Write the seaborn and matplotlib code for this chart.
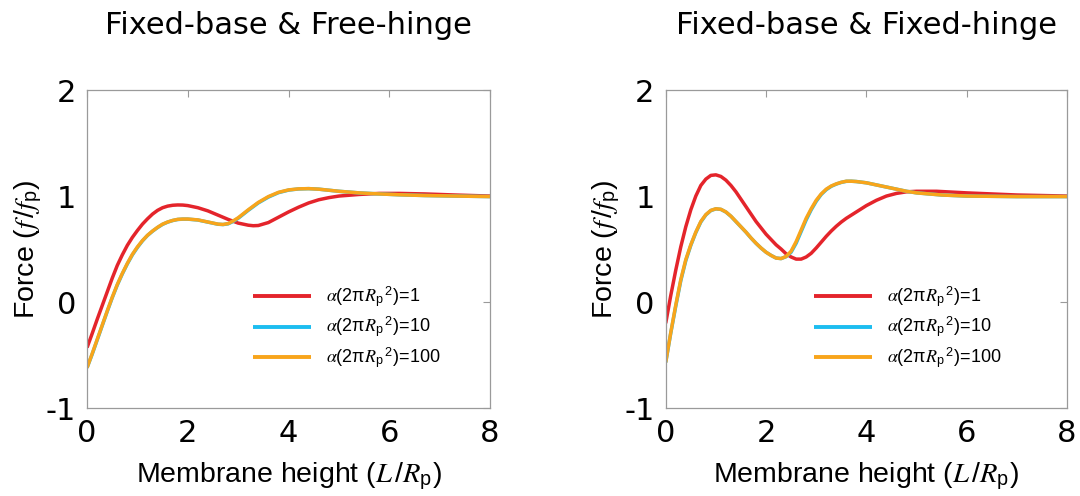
import numpy as np
import pandas as pd
import matplotlib
matplotlib.use("Agg")
import matplotlib.pyplot as plt
import seaborn as sns

# ---- data: force vs membrane height, for three values of alpha(2 pi Rp^2) ----
series_labels = [r"$\alpha$(2π$R_\mathrm{p}{}^{\,2}$)=1",
                 r"$\alpha$(2π$R_\mathrm{p}{}^{\,2}$)=10",
                 r"$\alpha$(2π$R_\mathrm{p}{}^{\,2}$)=100"]
panel_titles = ["Fixed-base & Free-hinge", "Fixed-base & Fixed-hinge"]

# Fixed-base & Free-hinge
free_red_L = [0, 0.1, 0.2, 0.3, 0.4, 0.5, 0.6, 0.7, 0.8, 0.9, 1.0, 1.1, 1.2, 1.3, 1.4, 1.5,
              1.6, 1.7, 1.8, 1.9, 2.0, 2.2, 2.4, 2.6, 2.8, 3.0, 3.2, 3.3, 3.4, 3.6, 3.8,
              4.0, 4.2, 4.4, 4.6, 4.8, 5.0, 5.4, 5.8, 6.2, 6.7, 7.3, 8.0]
free_red_F = [-0.43, -0.30, -0.165, -0.035, 0.095, 0.225, 0.345, 0.445, 0.535, 0.61, 0.675,
              0.735, 0.785, 0.83, 0.865, 0.89, 0.905, 0.913, 0.916, 0.915, 0.91, 0.89, 0.86,
              0.82, 0.78, 0.745, 0.725, 0.72, 0.722, 0.75, 0.80, 0.85, 0.895, 0.935, 0.965,
              0.985, 1.0, 1.015, 1.025, 1.025, 1.02, 1.01, 1.0]
free_alt_L = [0, 0.1, 0.2, 0.3, 0.4, 0.5, 0.6, 0.7, 0.8, 0.9, 1.0, 1.1, 1.2, 1.3, 1.4, 1.5,
              1.6, 1.7, 1.8, 1.9, 2.0, 2.2, 2.4, 2.6, 2.7, 2.8, 2.9, 3.0, 3.2, 3.4, 3.6,
              3.8, 4.0, 4.2, 4.4, 4.6, 4.8, 5.0, 5.4, 5.8, 6.2, 6.7, 7.3, 8.0]
free_cyan_F = [-0.62, -0.495, -0.36, -0.225, -0.09, 0.04, 0.16, 0.265, 0.36, 0.445, 0.515,
               0.577, 0.628, 0.668, 0.703, 0.733, 0.754, 0.769, 0.779, 0.782, 0.782, 0.774,
               0.754, 0.734, 0.731, 0.738, 0.76, 0.79, 0.865, 0.935, 0.99, 1.032, 1.056,
               1.067, 1.07, 1.065, 1.055, 1.045, 1.03, 1.02, 1.012, 1.005, 1.0, 0.995]
free_orange_F = [-0.62, -0.49, -0.355, -0.22, -0.085, 0.045, 0.165, 0.27, 0.365, 0.45, 0.52,
                 0.58, 0.63, 0.67, 0.705, 0.735, 0.755, 0.77, 0.78, 0.783, 0.783, 0.775,
                 0.755, 0.735, 0.732, 0.74, 0.765, 0.795, 0.87, 0.94, 0.995, 1.035, 1.058,
                 1.068, 1.07, 1.065, 1.055, 1.045, 1.03, 1.02, 1.012, 1.005, 1.0, 0.995]

# Fixed-base & Fixed-hinge
fixed_red_L = [0, 0.1, 0.2, 0.3, 0.4, 0.5, 0.6, 0.7, 0.8, 0.9, 1.0, 1.1, 1.2, 1.3, 1.4,
               1.5, 1.6, 1.7, 1.8, 1.9, 2.0, 2.1, 2.2, 2.3, 2.4, 2.5, 2.6, 2.7, 2.8, 2.9,
               3.0, 3.1, 3.2, 3.3, 3.4, 3.5, 3.6, 3.7, 3.8, 3.9, 4.0, 4.2, 4.4, 4.6, 4.8,
               5.0, 5.4, 6.0, 7.0, 8.0]
fixed_red_F = [-0.20, 0.06, 0.30, 0.52, 0.71, 0.87, 1.00, 1.10, 1.16, 1.195, 1.20, 1.185,
               1.15, 1.10, 1.04, 0.97, 0.90, 0.83, 0.76, 0.70, 0.64, 0.59, 0.54, 0.50,
               0.455, 0.425, 0.405, 0.405, 0.425, 0.46, 0.51, 0.565, 0.62, 0.67, 0.715,
               0.755, 0.79, 0.82, 0.85, 0.88, 0.91, 0.96, 1.0, 1.025, 1.04, 1.045, 1.045,
               1.03, 1.01, 1.0]
fixed_alt_L = [0, 0.1, 0.2, 0.3, 0.4, 0.5, 0.6, 0.7, 0.8, 0.9, 1.0, 1.1, 1.2, 1.3, 1.4,
               1.5, 1.6, 1.7, 1.8, 1.9, 2.0, 2.1, 2.2, 2.3, 2.4, 2.5, 2.6, 2.7, 2.8, 2.9,
               3.0, 3.1, 3.2, 3.3, 3.4, 3.5, 3.6, 3.7, 3.8, 4.0, 4.2, 4.4, 4.6, 4.8, 5.0,
               5.5, 6.0, 7.0, 8.0]
fixed_cyan_F = [-0.57, -0.295, -0.04, 0.2, 0.39, 0.535, 0.655, 0.755, 0.822, 0.863, 0.879,
                0.874, 0.849, 0.809, 0.759, 0.709, 0.659, 0.604, 0.554, 0.509, 0.47, 0.44,
                0.415, 0.41, 0.428, 0.47, 0.555, 0.665, 0.775, 0.87, 0.95, 1.015, 1.06,
                1.092, 1.113, 1.129, 1.139, 1.14, 1.137, 1.125, 1.105, 1.085, 1.065, 1.045,
                1.03, 1.01, 1.0, 0.995, 0.995]
fixed_orange_F = [-0.57, -0.29, -0.03, 0.21, 0.40, 0.54, 0.66, 0.76, 0.825, 0.865, 0.88,
                  0.875, 0.85, 0.81, 0.76, 0.71, 0.66, 0.605, 0.555, 0.51, 0.47, 0.44,
                  0.415, 0.41, 0.43, 0.48, 0.57, 0.68, 0.79, 0.88, 0.96, 1.02, 1.065,
                  1.095, 1.115, 1.13, 1.14, 1.14, 1.137, 1.125, 1.105, 1.085, 1.065, 1.045,
                  1.03, 1.01, 1.0, 0.995, 0.995]

x_ticks = [0, 2, 4, 6, 8]
y_ticks = [-1, 0, 1, 2]
palette = ["#e4242b", "#1cbdf0", "#f8a51b"]


def long_frame(parts):
    frames = []
    for lab, L, F in parts:
        frames.append(pd.DataFrame({"L": L, "F": F, "series": lab}))
    return pd.concat(frames, ignore_index=True)


panels = [
    long_frame([(series_labels[0], free_red_L, free_red_F),
                (series_labels[1], free_alt_L, free_cyan_F),
                (series_labels[2], free_alt_L, free_orange_F)]),
    long_frame([(series_labels[0], fixed_red_L, fixed_red_F),
                (series_labels[1], fixed_alt_L, fixed_cyan_F),
                (series_labels[2], fixed_alt_L, fixed_orange_F)]),
]

# ---- styling ----
sns.set_theme(style="white")
plt.rcParams["font.family"] = ["DejaVu Sans"]
plt.rcParams["text.color"] = "black"
plt.rcParams["axes.labelcolor"] = "black"
plt.rcParams["axes.unicode_minus"] = False
plt.rcParams["mathtext.fontset"] = "custom"
plt.rcParams["mathtext.rm"] = "Liberation Sans"
plt.rcParams["mathtext.it"] = "STIXGeneral:italic"
plt.rcParams["mathtext.bf"] = "Liberation Sans:bold"

fig = plt.figure(figsize=(10.8, 4.96), dpi=100)
axes_rects = [[0.0806, 0.1774, 0.3731, 0.641], [0.6164, 0.1774, 0.3716, 0.641]]
legend_x = [0.412, 0.3695]
frame_col = "#9a9a9a"

for i, (rect, df) in enumerate(zip(axes_rects, panels)):
    ax = fig.add_axes(rect)
    sns.lineplot(data=df, x="L", y="F", hue="series", hue_order=series_labels,
                 palette=palette, estimator=None, sort=False, linewidth=2.5,
                 ax=ax, legend=False)
    for ln in ax.get_lines():
        ln.set_solid_joinstyle("round")
        ln.set_solid_capstyle("butt")
    ax.set_xlim(0, 8)
    ax.set_ylim(-1, 2)
    ax.set_xticks(x_ticks)
    ax.set_yticks(y_ticks)
    ax.set_xticklabels([str(v) for v in x_ticks])
    ax.set_yticklabels([str(v) for v in y_ticks])
    ax.tick_params(direction="in", top=True, right=True, length=5, width=0.8,
                   color=frame_col, labelsize=22, labelcolor="black", pad=8)
    for sp in ax.spines.values():
        sp.set_color(frame_col)
        sp.set_linewidth(0.9)
    ax.set_xlabel(r"Membrane height ($L\,/R_\mathrm{p}$)", fontsize=20.5,
                  family="Liberation Sans", color="black")
    ax.set_ylabel(r"Force ($f\,/f_\mathrm{p}$)", fontsize=20.5,
                  family="Liberation Sans", color="black")
    ax.xaxis.set_label_coords(0.5, -0.165)
    ax.yaxis.set_label_coords(-0.108, 0.5)

    handles = ax.get_lines()[:3]
    leg = ax.legend(handles, series_labels, loc="center left",
                    bbox_to_anchor=(legend_x[i], 0.2525), frameon=False,
                    prop={"family": "Liberation Sans", "size": 13},
                    handlelength=3.2, handletextpad=0.85, labelspacing=0.3,
                    borderaxespad=0, borderpad=0)
    for txt in leg.get_texts():
        txt.set_color("black")
    for ln in leg.get_lines():
        ln.set_linewidth(2.8)

    cx = rect[0] + rect[2] / 2
    fig.text(cx, 1 - 26 / 496, panel_titles[i], ha="center", va="center",
             fontsize=22, family="DejaVu Sans", color="black")

fig.savefig("out.png", dpi=100, facecolor="white")
